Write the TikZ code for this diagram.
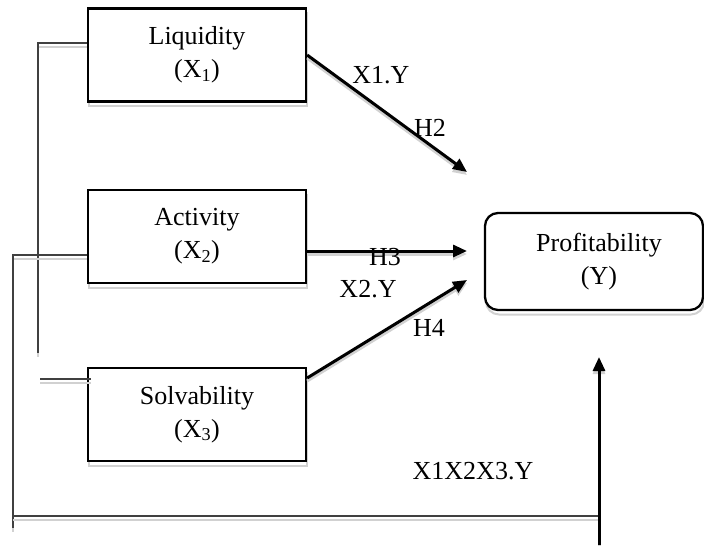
\documentclass[tikz,border=0pt]{standalone}
\usepackage{fontspec}
\setmainfont{Liberation Serif}
\usetikzlibrary{arrows.meta,calc}
\begin{document}
\begin{tikzpicture}[x=1pt,y=1pt,
  box/.style={draw=black, line width=2.3pt, fill=white, minimum width=218pt, minimum height=93pt,
    align=center, font=\fontsize{26}{33}\selectfont, inner sep=0pt,
    preaction={draw=black!18, line width=2pt, transform canvas={xshift=1pt,yshift=-4.5pt}}},
  rbox/.style={box, rounded corners=13pt},
  conn/.style={draw=black!75, line width=1.4pt,
    preaction={draw=black!18, line width=1.4pt, transform canvas={yshift=-4pt}}},
  arr/.style={draw=black, line width=3pt, -{Triangle[length=14pt,width=12pt]},
    preaction={draw=black!18, line width=3pt, transform canvas={yshift=-3pt}}},
  lab/.style={font=\fontsize{26}{30}\selectfont, inner sep=0pt}]
\useasboundingbox (0,0) rectangle (704,-546);

% boxes
\node[box] (liq) at (197,-55) {Liquidity\\(X\textsubscript{1})};
\node[box] (act) at (197,-236.5) {Activity\\(X\textsubscript{2})};
\node[box] (sol) at (197,-414.5) {Solvability\\(X\textsubscript{3})};
\node[rbox, minimum width=218pt, minimum height=97pt] (prof) at (594,-261.5) {\hspace*{10pt}Profitability\\\hspace*{10pt}(Y)};

% free ends
\coordinate (c1) at (38,-353);
\coordinate (c2) at (13,-528);
\coordinate (c3) at (40,-379);
\coordinate (c4) at (13,-516);
\coordinate (c5) at (599,-516);
\coordinate (up0) at (599,-545);
\coordinate (up1) at (599,-357);
\coordinate (h2s) at (liq.east);
\coordinate (h2e) at (467,-172);
\coordinate (h3s) at ($(act.east)+(0,-14.5)$);
\coordinate (h3e) at (467,-251);
\coordinate (h4s) at ($(sol.east)+(0,36.5)$);
\coordinate (h4e) at (467,-280);

% thin connectors
\draw[conn] ($(liq.west)+(0,12)$) -- (38,-43) -- (c1);
\draw[conn] ($(act.west)+(0,-18.5)$) -- (13,-255) -- (c2);
\draw[conn] (c3) -- ($(sol.west)+(4,35.5)$);
\draw[conn] (c4) -- (c5);

% arrows
\draw[arr] (h2s) -- (h2e);
\draw[arr] (h3s) -- (h3e);
\draw[arr] (h4s) -- (h4e);
\draw[arr] (up0) -- (up1);

% labels
\node[lab] (l1) at (381,-75) {X1.Y};
\node[lab] (l2) at (430,-128) {H2};
\node[lab] (l3) at (385,-257) {H3};
\node[lab] (l4) at (368,-289) {X2.Y};
\node[lab] (l5) at (429,-328) {H4};
\node[lab] (l6) at (473,-471) {X1X2X3.Y};
\end{tikzpicture}
\end{document}
